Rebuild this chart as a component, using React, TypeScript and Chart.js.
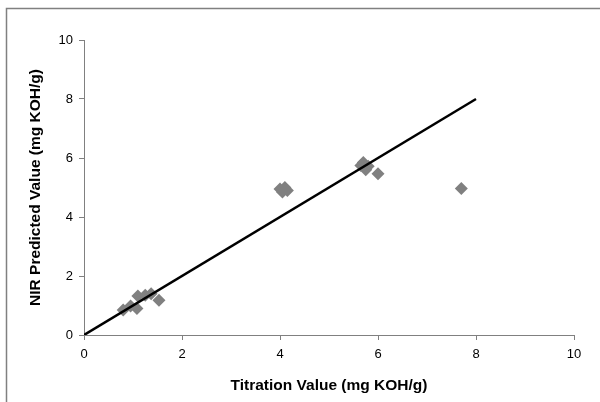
import React, { useEffect, useRef } from "react";
import { Chart, registerables } from "chart.js";

Chart.register(...registerables);

const titrationValues = [0.8, 0.95, 1.08, 1.1, 1.25, 1.37, 1.53, 4.0, 4.05, 4.1, 4.15, 5.65, 5.7, 5.75, 5.8, 6.0, 7.7];
const nirPredicted = [0.85, 0.98, 0.9, 1.32, 1.35, 1.4, 1.18, 4.95, 4.85, 5.0, 4.9, 5.75, 5.85, 5.6, 5.72, 5.47, 4.97];
const lineX = [0, 8];
const lineY = [0, 8];
const tickValues = [0, 2, 4, 6, 8, 10];

const FONT = "'Liberation Sans', Arial, sans-serif";

const borderPlugin = {
  id: "outerBorder",
  beforeDraw(chart: any) {
    const ctx = chart.ctx;
    ctx.save();
    ctx.fillStyle = "#ffffff";
    ctx.fillRect(0, 0, chart.width, chart.height);
    ctx.strokeStyle = "#808080";
    ctx.lineWidth = 1.5;
    ctx.beginPath();
    ctx.moveTo(6.5, chart.height);
    ctx.lineTo(6.5, 8.5);
    ctx.lineTo(chart.width, 8.5);
    ctx.stroke();
    ctx.restore();
  },
};

export default function App() {
  const ref = useRef<HTMLCanvasElement>(null);
  useEffect(() => {
    if (!ref.current) return;
    const chart = new Chart(ref.current, {
      type: "scatter",
      data: {
        datasets: [
          {
            label: "Samples",
            data: titrationValues.map((x, i) => ({ x, y: nirPredicted[i] })),
            pointStyle: "rectRot",
            pointRadius: 6.5,
            backgroundColor: "#808080",
            borderColor: "#808080",
            borderWidth: 0,
            order: 2,
          },
          {
            label: "1:1",
            type: "line",
            data: lineX.map((x, i) => ({ x, y: lineY[i] })),
            borderColor: "#000000",
            borderWidth: 2.5,
            pointRadius: 0,
            fill: false,
            order: 1,
          },
        ],
      },
      options: {
        animation: false,
        responsive: false,
        layout: { padding: { left: 0, top: 40, right: 26, bottom: 0 } },
        plugins: { legend: { display: false }, tooltip: { enabled: false } },
        scales: {
          x: {
            type: "linear",
            min: 0,
            max: 10,
            afterBuildTicks: (s: any) => {
              s.ticks = tickValues.map((v) => ({ value: v }));
            },
            afterFit: (s: any) => {
              s.height = 67;
            },
            grid: { drawOnChartArea: false, drawTicks: true, tickLength: 5, color: "#808080" },
            border: { color: "#808080", width: 1 },
            ticks: { color: "#000", font: { family: FONT, size: 13 }, padding: 7, maxRotation: 0 },
            title: {
              display: true,
              text: "Titration Value (mg KOH/g)",
              color: "#000",
              font: { family: FONT, size: 15.5, weight: "bold" },
              padding: { top: 0, bottom: 7 },
            },
          },
          y: {
            type: "linear",
            min: 0,
            max: 10,
            afterBuildTicks: (s: any) => {
              s.ticks = tickValues.map((v) => ({ value: v }));
            },
            afterFit: (s: any) => {
              s.width = 84;
            },
            grid: { drawOnChartArea: false, drawTicks: true, tickLength: 5, color: "#808080" },
            border: { color: "#808080", width: 1 },
            ticks: { color: "#000", font: { family: FONT, size: 13 }, padding: 6 },
            title: {
              display: true,
              text: "NIR Predicted Value (mg KOH/g)",
              color: "#000",
              font: { family: FONT, size: 15.5, weight: "bold" },
              padding: { top: 26, bottom: 0 },
            },
          },
        },
      },
      plugins: [borderPlugin],
    });
    return () => chart.destroy();
  }, []);
  return (
    <div style={{ position: "absolute", left: 0, top: 0, width: 600, height: 402 }}>
      <canvas ref={ref} width={600} height={402} style={{ display: "block" }} />
    </div>
  );
}
